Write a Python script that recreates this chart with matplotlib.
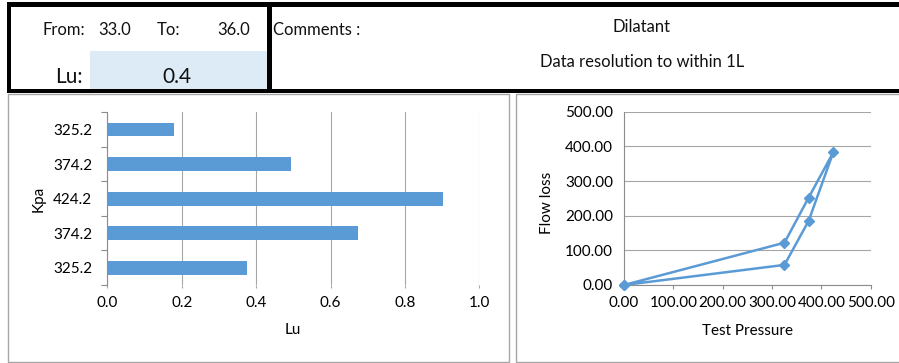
import matplotlib
matplotlib.use("Agg")
import matplotlib.pyplot as plt
from matplotlib.patches import Rectangle
import numpy as np

plt.rcParams['font.family'] = ['Lato', 'DejaVu Sans']

W, H = 899, 363

# header cells
from_val = 33.0
to_val = 36.0
lu_val = 0.4
comment_lines = ["Dilatant", "Data resolution to within 1L"]

# bar chart, bottom to top
kpa_labels = ["325.2", "374.2", "424.2", "374.2", "325.2"]
lu_values = [0.375, 0.675, 0.903, 0.494, 0.18]

# line chart (up then down)
test_pressure = [0, 325.2, 374.2, 424.2, 374.2, 325.2, 0]
flow_loss = [0, 58, 185, 383, 252, 122, 0]

blue = '#5B9BD5'
grid_c = '#A6A6A6'
axis_c = '#8C8C8C'
fs = 11


def box(x0, y0, x1, y1):
    # pixel box (top-left origin) -> figure fraction
    return [x0 / W, 1 - y1 / H, (x1 - x0) / W, (y1 - y0) / H]


fig = plt.figure(figsize=(W / 100, H / 100), dpi=100)

# background layer for the sheet cells and chart frames
bg = fig.add_axes([0, 0, 1, 1], zorder=0)
bg.set_xlim(0, W)
bg.set_ylim(H, 0)
bg.axis('off')

bg.add_patch(Rectangle((89.5, 50.5), 177.5, 38.5, color='#DDEBF7', lw=0))
for x, y, w, h in [(7, 2, 892, 5), (7, 2, 4, 90), (267, 2, 4.5, 90), (7, 88.5, 892, 4)]:
    bg.add_patch(Rectangle((x, y), w, h, color='black', lw=0))
bg.add_patch(Rectangle((8, 94), 500.5, 267.5, fill=False, ec=grid_c, lw=1))
bg.add_patch(Rectangle((516, 94), 390, 267.5, fill=False, ec=grid_c, lw=1))

hdr = dict(fontsize=12, va='center', color='#111111')
bg.text(42, 30, "From:", ha='left', **hdr)
bg.text(98, 30, f"{from_val:.1f}", ha='left', **hdr)
bg.text(157, 30, "To:", ha='left', **hdr)
bg.text(250, 30, f"{to_val:.1f}", ha='right', **hdr)
bg.text(273, 30, "Comments :", ha='left', fontsize=12, va='center', color='#111111')
bg.text(642, 27, comment_lines[0], ha='center', **hdr)
bg.text(642, 62, comment_lines[1], ha='center', **hdr)
bg.text(83, 77, "Lu:", ha='right', fontsize=15, va='center', color='#111111')
bg.text(177, 77, f"{lu_val:.1f}", ha='center', fontsize=15, va='center', color='#111111')

# bar chart
ax1 = fig.add_axes(box(107.3, 112.3, 479.3, 285), zorder=1)
ax1.set_facecolor('none')
ypos = np.arange(len(lu_values))
ax1.barh(ypos, lu_values, height=0.4, color=blue, zorder=3)
ax1.set_xlim(0, 1)
ax1.set_ylim(-0.5, len(lu_values) - 0.5)
xt = np.arange(0, 1.01, 0.2)
ax1.set_xticks(xt, [f"{v:.1f}" for v in xt])
ax1.set_yticks(ypos, kpa_labels)
ax1.set_yticks(np.arange(-0.5, len(lu_values), 1), minor=True)
ax1.grid(axis='x', color=grid_c, lw=0.8, zorder=0)
for s in ['top', 'right', 'bottom']:
    ax1.spines[s].set_visible(False)
ax1.spines['left'].set_color(axis_c)
ax1.tick_params(axis='y', which='major', length=0, pad=11, labelsize=fs)
ax1.tick_params(axis='y', which='minor', length=4, color=axis_c, width=0.8)
ax1.tick_params(axis='x', length=2, color=grid_c, width=0.8, pad=6, labelsize=fs)
ax1.set_xlabel("Lu", fontsize=fs)
ax1.xaxis.set_label_coords(0.5, -(330 - 285) / 172.7)
ax1.xaxis.label.set_va('center')
ax1.set_ylabel("Kpa", fontsize=fs)
ax1.yaxis.set_label_coords((39 - 107.3) / 372, 0.5)
ax1.yaxis.label.set_va('center')

# line chart
ax2 = fig.add_axes(box(624, 111.7, 870.7, 285), zorder=1)
ax2.set_facecolor('none')
ax2.plot(test_pressure, flow_loss, color=blue, lw=1.8, marker='D', ms=5.5,
         clip_on=False, zorder=3)
ax2.set_xlim(0, 500)
ax2.set_ylim(0, 500)
t2 = np.arange(0, 501, 100)
ax2.set_xticks(t2, [f"{v:.2f}" for v in t2])
ax2.set_yticks(t2, [f"{v:.2f}" for v in t2])
ax2.grid(axis='y', color=grid_c, lw=0.8, zorder=0)
for s in ['top', 'right']:
    ax2.spines[s].set_visible(False)
ax2.spines['left'].set_color(axis_c)
ax2.spines['bottom'].set_color(axis_c)
ax2.tick_params(axis='y', length=0, pad=8, labelsize=fs)
ax2.tick_params(axis='x', length=3, color=axis_c, width=0.8, pad=5, labelsize=fs)
ax2.set_xlabel("Test Pressure", fontsize=fs)
ax2.xaxis.set_label_coords(0.5, -(331 - 285) / 173.3)
ax2.xaxis.label.set_va('center')
ax2.set_ylabel("Flow loss", fontsize=fs)
ax2.yaxis.set_label_coords((547 - 624) / 246.7, (285 - 203) / 173.3)
ax2.yaxis.label.set_va('center')

fig.savefig("out.png", dpi=100)
